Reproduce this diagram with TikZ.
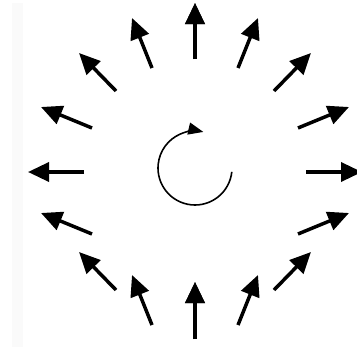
\documentclass[tikz,border=0pt]{standalone}
\usetikzlibrary{arrows.meta}
\begin{document}
\begin{tikzpicture}[x=1pt,y=-1pt,
  vec/.style={line width=3.5pt,-{Triangle[length=21pt,width=19pt]}},
  spin/.style={line width=1.6pt,-{Triangle[length=15pt,width=12pt]}}]
\useasboundingbox (0,0) rectangle (357,348);
\fill[black!2] (12,3) rectangle (23,347);
% right half and centre line (tail x, tail y, head x, head y)
\foreach \n/\tx/\ty/\hx/\hy in {
  a/195/59/195/3,
  b/238/68/258/18,
  c/274/91/311/53,
  d/298/128/349/107,
  e/306/172/362/172,
  f/298/234/349/213,
  g/274/290/311/252,
  h/238/325/258/275,
  i/195/339/195/282}{
  \coordinate (t\n) at (\tx,\ty);
  \coordinate (h\n) at (\hx,\hy);
  \draw[vec] (t\n) -- (h\n);
  % mirrored on the left
  \coordinate (lt\n) at (390-\tx,\ty);
  \coordinate (lh\n) at (390-\hx,\hy);
  \draw[vec] (lt\n) -- (lh\n);
}
% rotation symbol in the centre
\coordinate (c0) at (195,168);
\draw[spin] (c0) ++(6:37) arc[start angle=6,end angle=283,radius=37];
\end{tikzpicture}
\end{document}
